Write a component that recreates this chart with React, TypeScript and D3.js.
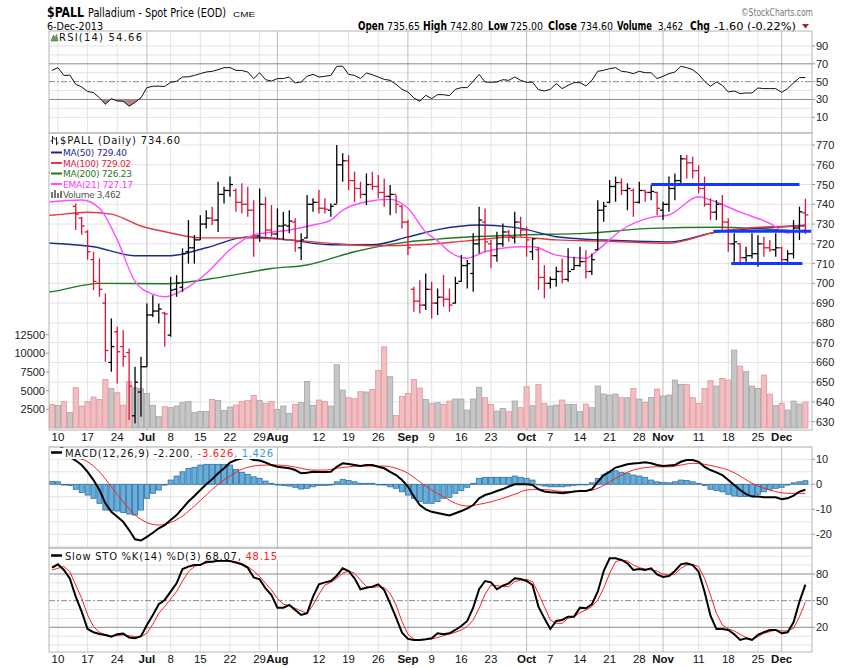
import React from 'react';
import * as d3 from 'd3';

// ---------- DATA ----------
const PRIOR_CLOSE = 755;
const OPEN = [756,748,752,746,739,733,726,712,700,690,
660,675.5,668,665,633,645,657.8,684,686,685,
673.8,697,698,716,718,722,730,733,732,745,
747,747,741,740,737,724,740,727,725,729,
729,731,718,723,740,741,738,737,740,760,
762,752,748,745,750,749,746,744,745,739,
731,697,691,689,697,690,693,692,690,701,
709,705,720,731,720,714,720,726,723,731,
727,716,717,703,700,702,706,702,707,709,
711,706,717,737,741,749,751,747,747,741,
747,746,746,737,740,748,752,763,761,757,
748,740,736,740,731,720,720,713,714,715,
720,718,717,718,712,715,728,735.65];
const HIGH = [758,757,755,752,740.4,733.7,727,716,712.6,694.9,
682.2,678,676.3,667,657.8,662.8,689.8,694,689.8,685.6,
703.3,704.2,717.7,732,724.4,734.5,737,738.8,751.4,748.9,
754,748,750.6,748.9,742.1,748,743.8,739.6,737.9,736.2,
737,732.9,725.3,744.7,743,747.2,743,740.4,770,765.8,
764.9,756.5,751.4,755.6,756.5,754.8,753.1,749.7,744.7,739.6,
732,698.3,701.6,705,700.8,697.4,704.2,697.4,703.3,714.3,
711.8,725.3,738.8,737.9,721.9,726.1,730.3,727,736.2,733.7,
728.6,722.7,718.5,709.2,703.3,708.4,712.6,717.7,713.5,718.5,
716.8,715.1,742.1,741.3,752.3,754,753.1,750.6,748,751.4,
747.2,749.7,746.4,741.3,754,755.6,764.9,764.9,764,759.8,
754,743,742.1,744.7,732.9,725.3,720.2,718.5,725.3,724.4,
723.6,721.9,725.3,718.5,716.8,732,738.8,742.8];
const LOW = [745,746,744,743,727,724.6,712,696.6,693.2,660.3,
655.3,649.3,657.8,630.8,629.1,632.5,657.8,683,679.7,667.9,
673,693.2,695.7,710,710,721.9,727.8,729.5,726,740.4,
743.8,736.2,735.4,733.7,713.5,721,723.6,723.6,722.7,721.9,
725.3,716,711.8,722.7,736.2,735.4,735.4,733.7,740.4,751.4,
747.2,741.3,743,739.6,747.2,743,738.8,734.5,735.4,727.8,
714.3,685.6,684.8,686.5,682.2,684,688.2,685.6,689.8,700.8,
697.4,695.7,715.1,716,707.6,710.9,718.5,721,720.2,723.6,
713.5,711.8,696.6,692.4,697.4,698.3,700,700.8,706.7,708.4,
702.5,704.2,716.8,731.2,740.4,741.3,744.7,737,733.7,740.4,
741.3,742.1,734.5,732,736.2,742.1,750.6,753.1,753.1,745.5,
738.8,732,732,726.1,716,710.9,709.2,710.9,712.6,708.4,
713.5,716,713.5,710,710.9,712.6,721.9,725];
const CLOSE = [748,752,746,748,735,729,716,701,697,666,
668,665.4,663,648,650,657.8,684,686,687,684.5,
696.6,700,715,718,722,730,733,732,745,747,
750,741,740,737,724,740,727,725,729,729.5,
731.5,721,722,740,741,738,737.5,739,760,762,
752,748,745,750,749,746,744,745,740,731,
718,691,689,697,690,693,692,689,700,709,
710,720,732,721,714,720,726,723.5,731,727,
722,722.5,703,700,702,706,702,706,709,711,
706,712,737,739,749,751,747,748,741,747,
746,746.5,738,740,748,752,763,761,757,748,
740,736,740,731,720,721,713,714,715,720,
718,717,718,712,715,728,736.2,734.6];
const VOLUME = [3164,3030,3520,2050,5390,2940,3520,4144,3832,6506,
5303,4723,3075,6238,5390,5258,4634,3030,1515,2852,
2718,2941,3387,3520,2050,2228,2228,3832,3699,2362,
2807,3075,3565,3699,4367,3699,3297,3565,2495,2941,
1960,3164,3387,6238,3030,3743,3520,2941,8466,5080,
4055,3921,4857,4812,5169,7709,10872,6862,1693,4233,
4634,6506,5347,3832,3297,3387,3164,3610,3877,3877,
2406,3877,5436,4055,3164,2273,2629,2184,3610,2718,
5525,2985,5837,3297,2941,3075,3743,3164,3164,2184,
3208,2718,5614,4545,4411,4545,4055,4055,5302,3877,
3431,4100,5214,4278,4411,6417,5837,5837,4055,3297,
5303,6328,5614,6640,6417,10427,8288,7530,5614,5303,
7085,4545,2985,3297,2406,3610,3208,3462];
const RSI = [62.7,65.7,57,57.3,47,44,39,37.7,32,24.6,
31,28.3,28,22.4,26.8,32,43.3,44.8,45,44.6,
49.3,50.4,55.2,55.4,57,59,60.8,61.6,63.4,65.7,
65.8,62.7,62.5,60.8,53.4,60,52.2,50.7,53.4,53.5,
55.2,48.5,49.6,56,58.2,55.2,56,57,67.2,67.3,
58.2,57,53.4,59.7,57.8,55.2,52.6,51.5,47,41.4,
38.4,31.7,28,34.7,31,35.4,35.4,34.3,41.4,43.3,
43.3,50.4,58.2,49.6,49.3,49.6,52.2,51.5,55.2,51.5,
49.3,49.3,41,39.5,41.4,47.8,42.2,45.9,48.9,48.9,
45.1,51.5,61.6,62.7,64.6,65.7,61.6,60.8,59,61.6,
60,60,53.4,56,59,60.8,67.2,65.7,63.4,58.2,
50.4,44.8,49.6,45.9,38.4,39.5,36.6,37.3,37.3,42.9,
42.2,42.2,42.2,38,42.2,48.5,54.5,54.66];
const MACD = [18.2,16,14,11,9.5,7.7,5,1.7,-2.3,-7.6,
-11,-13,-15,-18.3,-22,-22.5,-21,-19.4,-17.6,-16.3,
-14.3,-12.3,-9.6,-6.9,-4.7,-2.3,0,2,4.4,6.4,
8.7,9.7,10.4,10.7,9.7,9.5,8.7,7.7,7,6.7,
6.4,5.7,4.4,4.6,5,4.9,4.9,5,7,8.4,
8.1,7.7,7.3,7.7,7.7,7,6.4,5,3.7,1.7,
-0.9,-4.9,-8.3,-10,-11,-11.5,-12,-12.5,-11.6,-10.7,
-9.6,-8.3,-5.6,-4.3,-3.6,-2.7,-1.9,-0.9,0,0,
0,-0.3,-2,-2.9,-3.2,-3.3,-3.6,-3.3,-2.9,-2.7,
-2.7,-2,1,3.7,5,6.7,7.3,8,8.3,8.5,
8.8,8.4,7.7,7.3,7.5,7.7,9,9.7,9.7,9,
7,5.7,4.8,3.7,1.7,-0.3,-2.3,-3.9,-4.9,-4.9,
-5.2,-5.2,-5.2,-6,-5.6,-4.5,-2.9,-2.2];
const MACD_SIGNAL = [[0,17],[2,14],[4,11],[6,9],[8,5],[10,-1],[12,-7],[14,-12.3],[16,-15.3],[18,-16.3],
[20,-15.3],[22,-12.7],[24,-8.7],[26,-4.3],[28,0],[30,3.3],[32,6],[34,7.3],[36,7.7],[38,7.7],
[40,7.3],[42,6.4],[44,5.7],[46,5.7],[48,6.4],[50,7],[52,7.3],[54,7.3],[56,7.3],[58,6.4],
[60,4.4],[62,1],[64,-2.3],[66,-5],[68,-7.6],[70,-8.7],[72,-8],[74,-7],[76,-5.6],[78,-4],
[80,-2.3],[82,-2],[84,-2.3],[86,-2.9],[88,-2.9],[90,-2.7],[92,-1.6],[94,1],[96,3.7],[98,5.7],
[100,6.7],[102,7],[104,7],[106,7.7],[108,8.4],[110,8],[112,7],[114,5.7],[116,3.3],[118,0.4],
[120,-1.6],[122,-2.9],[124,-3.6],[126,-3.6],[127,-3.626]];
const MACD_HIST = [1.2,1,-0.3,-0.5,-2,-3.3,-4.3,-5.6,-7.6,-10.3,
-10.5,-10.7,-11.3,-11.9,-12.3,-10.3,-5.6,-3.6,-2.3,-0.3,
1.7,3.3,5,6.4,6.8,7.7,8,8,8,8,
7.7,6,4.8,4,3,2.4,1.3,0.4,-0.3,-0.5,
-0.7,-1.2,-1.9,-1.6,-1,-0.5,-0.5,-0.3,1,2,
1.5,1,0.4,0.4,0.4,0,-0.3,-1,-1.6,-3,
-4.3,-5.6,-6.9,-7.6,-7.6,-6.9,-5.6,-5.2,-3.6,-2.5,
-1.2,0.4,2.4,2.8,2.8,2.8,2.8,2.8,3.3,2.8,
2.4,1.7,0,-0.7,-1,-1,-1,-0.7,-0.4,-0.1,
0,0.6,2.4,3.7,5,5.4,4.8,4.4,3.7,3.3,
2.8,1.7,1,0.8,0.6,1,1.7,1.5,1,0.4,
-0.5,-2,-2.5,-3,-4,-4.7,-4.9,-4.9,-4.7,-4,
-3,-2,-1.6,-1.2,-0.3,0.6,1,1.426];
const STO_K = [87.1,90.9,84.5,75.1,54.5,37.6,18.1,14.4,12.5,11.4,
9.5,12.1,12.9,8.4,7.6,9.9,22.6,33.9,45.9,50.8,
60.1,69.5,85.6,88.3,90.1,90.1,93.9,93.9,95,95,
94.6,92.8,90.9,87.1,76.2,74,63.9,56.4,42.1,42.1,
45.1,39.5,33.9,35.8,54.5,68.4,70.6,72.1,78.1,86.4,
83.4,75.1,62.8,64.6,65.8,68.4,62,47,30.9,14,
6.9,5.8,5.8,6.5,7.6,13.3,12.1,13.3,17,21.5,
27.1,42.1,62.8,72.1,70.6,62.8,66.9,69.5,75.1,74.4,
72.1,67.6,43.3,30.1,18.1,27.1,28.3,32,32,42.1,
41.4,45.9,60.1,83.4,97.6,97.6,95.8,92,84.5,85.6,
84.5,86.4,79.6,76.6,77.8,83.4,90.9,92,90.1,82.6,
60.1,33.1,18.1,18.1,17,12.1,5.8,7.6,5.8,11.4,
14.4,17,17,13.3,14.4,25.6,48.9,68.07];
const STO_D = [84.5,86.5,88.3,82.6,67.6,52.6,33.9,20.8,14.4,11.4,
10.6,10.6,11.4,10.6,9.5,9.5,13.3,23.4,35.8,43.3,
51.9,60.1,72.1,82.6,88.3,90.9,92,93.9,94.6,94.6,
94.6,93.9,92,88.3,83.4,77,69.5,62,52.6,45.9,
44.4,41.4,38.4,35.8,45.1,57.1,67.6,70.6,75.1,80.8,
83.4,80.8,73.2,65.8,64.6,65.8,64.6,58.2,45.1,26.4,
12.1,6.5,5.8,6.2,6.9,8.5,10.6,12.5,14.4,17,
20.8,28.3,41.4,57.1,67.6,66.9,65.8,65.8,71.4,73.2,
74,71.4,58.2,43.3,28.3,24.5,24.5,30.1,32,36.5,
39.5,43.3,50.8,63.9,80.8,93.9,95.8,94.6,90.1,87.1,
85.6,84.5,83.4,79.6,78.9,79.6,86.4,90.1,90.9,88.3,
75.1,56.4,35.8,22.6,18.1,15.9,12.1,8.4,6.5,9.5,
13.3,15.1,17,15.9,15.9,18.9,32,48.15];
const MA50 = [[-1,720.5],[0,720.3],[7,718.5],[14,714],[20,714],[26,718],[33,723.5],[40,722],[47,719.5],[54,719.5],[60,723.5],[65,727.2],[72,729.5],[79,727.8],[85,723.6],[93,721.9],[104,721],[112,726],[120,728],[127,729.4]];
const MA100 = [[-1,734.3],[0,734.5],[6,736],[10,735],[15,729],[20,725.5],[25,723],[32,723],[40,722],[48,720],[55,719],[62,719.5],[70,721.5],[78,723.5],[85,722],[93,721.4],[104,720.3],[112,726],[120,728.5],[127,729.02]];
const MA200 = [[-1,695.4],[0,695.8],[8,700],[19,699.8],[29,703.4],[37,707.5],[43,709.3],[51,716],[60,721],[65,722.4],[79,724.5],[90,725.3],[101,727.8],[112,728.4],[120,727.5],[127,726.23]];
const EMA21 = [[-1,741],[0,741.3],[5,742.2],[8,738],[11,722],[14,701],[17,694.5],[19,693.2],[22,696.5],[26,705],[30,717],[34,724.5],[40,727],[44,729.5],[47,732],[49,737],[53,741.3],[57,742.5],[60,738],[63,726],[65,721.5],[67,716],[70,712.7],[73,716],[79,718.5],[81,718.5],[85,714.3],[90,712.7],[92,716.9],[96,727],[101,733.4],[104,734.6],[109,743.8],[111,742.2],[116,736],[121,730.4],[124,725.5],[127,727.17]];
const ANNOT_PRICE = [750, 726.4, 710];
const ANNOT_START = [101, 111.5, 114.5];
const ANNOT_END = [126, 128, 126.5];
const TICK_POS = [1,6,11,16,20,25,30,35,38,45,50,55,60,64,69,74,80,84,89,94,99,103,109,114,119,123];
const TICK_LABELS = ['10','17','24','Jul','8','15','22','29','Aug','12','19','26','Sep','9','16','23','Oct','7','14','21','28','Nov','11','18','25','Dec'];
const MONTH_LABELS = ['Jul','Aug','Sep','Oct','Nov','Dec'];
const PRICE_TICKS = [630,640,650,660,670,680,690,700,710,720,730,740,750,760,770];
const VOLUME_TICKS = [2500,5000,7500,10000,12500];
const RSI_TICKS = [10,30,50,70,90];
const RSI_GRID = [10,20,40,60,80,90];
const MACD_TICKS = [-20,-10,0,10];
const MACD_GRID = [-25,-20,-15,-10,-5,0,5,10,15];
const STO_TICKS = [20,50,80];
const STO_GRID = [0,10,30,40,60,70,90,100];
const HEADER_LABELS = ['Open','High','Low','Close','Volume','Chg'];
const HEADER_VALUES = ['735.65','742.80','725.00','734.60','3,462','-1.60 (-0.22%)'];

// ---------- LAYOUT ----------
const PL = 49, PR = 812;
const RSI_T = 31, RSI_B = 133, MAIN_T = 133, MAIN_B = 430, MACD_T = 447, MACD_B = 548, STO_T = 548, STO_B = 652;
const HDR_LX = [358, 423, 488, 548, 617, 690];
const HDR_LW = [26, 24, 20, 29, 35, 20];
const HDR_VX = [387, 450, 510, 580, 658, 714];
const HDR_VW = [33, 33, 33, 33, 25, 82];

const SANS = "'Liberation Sans', Arial, Helvetica, sans-serif";
const NARROW = "'Liberation Sans Narrow', 'DejaVu Sans Condensed', 'Arial Narrow', sans-serif";
const VERD = "'DejaVu Sans', Verdana, sans-serif";
const UP = '#000000', DOWN = '#dc143c';

export default function App() {
  const x = d3.scaleLinear().domain([0, 127]).range([52, 805.4]);
  const yP = d3.scaleLinear().domain([630, 770]).range([421.7, 145]);
  const yV = d3.scaleLinear().domain([0, 12500]).range([428, 334.6]);
  const yR = d3.scaleLinear().domain([10, 90]).range([117.3, 46]);
  const yM = d3.scaleLinear().domain([-20, 10]).range([534.3, 459.3]);
  const yS = d3.scaleLinear().domain([20, 80]).range([627.3, 574]);

  const idx = d3.range(CLOSE.length);
  const isUp = (i: number) => CLOSE[i] >= (i === 0 ? PRIOR_CLOSE : CLOSE[i - 1]);

  const smooth = (ys: any) => d3.line<number[]>().x(d => x(d[0])).y(d => ys(d[1])).curve(d3.curveMonotoneX);
  const lin = (arr: number[], ys: any) => d3.line<number>().x((_, i) => x(i)).y(d => ys(d))(arr) || '';

  const rsiArea = d3.area<number>().x((_, i) => x(i)).y0(yR(30)).y1(d => yR(d))(RSI) || '';

  const weekGrid = (top: number, bot: number) =>
    TICK_POS.map((p, k) => (
      <line key={'g' + k} x1={x(p)} x2={x(p)} y1={top} y2={bot}
        stroke={MONTH_LABELS.includes(TICK_LABELS[k]) ? '#bdbdbd' : '#e3e3e3'} strokeWidth={1} />
    ));

  const dateAxis = (yb: number) =>
    TICK_POS.map((p, k) => {
      const m = MONTH_LABELS.includes(TICK_LABELS[k]);
      return (
        <text key={'d' + k} x={x(p)} y={yb} textAnchor="middle" fontFamily={SANS}
          fontSize={11.5} fontWeight={m ? 'bold' : 'normal'} fill="#111">{TICK_LABELS[k]}</text>
      );
    });

  const hline = (y: number, key: string, stroke = '#e3e3e3', dash?: string) => (
    <line key={key} x1={PL} x2={PR} y1={y} y2={y} stroke={stroke} strokeWidth={1} strokeDasharray={dash} />
  );

  return (
    <svg width={850} height={668} style={{ position: 'absolute', left: 0, top: 0, background: '#fff' }}
      xmlns="http://www.w3.org/2000/svg">
      <defs>
        <clipPath id="cRsi"><rect x={PL} y={RSI_T} width={PR - PL} height={RSI_B - RSI_T} /></clipPath>
        <clipPath id="cRsiLow"><rect x={PL} y={yR(30)} width={PR - PL} height={RSI_B - yR(30)} /></clipPath>
        <clipPath id="cMain"><rect x={PL} y={MAIN_T} width={PR - PL} height={MAIN_B - MAIN_T} /></clipPath>
        <clipPath id="cMacd"><rect x={PL} y={MACD_T} width={PR - PL} height={MACD_B - MACD_T} /></clipPath>
        <clipPath id="cSto"><rect x={PL} y={STO_T} width={PR - PL} height={STO_B - STO_T} /></clipPath>
      </defs>
      <rect x={0} y={0} width={850} height={668} fill="#fff" />

      {/* ---------- HEADER ---------- */}
      <text x={47} y={16.5} fontFamily={NARROW} fontWeight="bold" fontSize={14.5} textLength={37} lengthAdjust="spacingAndGlyphs">$PALL</text>
      <text x={88} y={16.5} fontFamily={NARROW} fontSize={11.5} textLength={138} lengthAdjust="spacingAndGlyphs">Palladium - Spot Price (EOD)</text>
      <text x={233} y={16.5} fontFamily={SANS} fontSize={7.5} textLength={22} lengthAdjust="spacingAndGlyphs">CME</text>
      <text x={47} y={29.5} fontFamily={NARROW} fontSize={10.5} textLength={56} lengthAdjust="spacingAndGlyphs">6-Dec-2013</text>
      <text x={741} y={16} fontFamily={NARROW} fontSize={10.5} fill="#777" textLength={72} lengthAdjust="spacingAndGlyphs">©StockCharts.com</text>
      {HEADER_LABELS.map((l, k) => (
        <g key={'hd' + k}>
          <text x={HDR_LX[k]} y={29.5} fontFamily={NARROW} fontSize={11.5} fontWeight="bold" textLength={HDR_LW[k]} lengthAdjust="spacingAndGlyphs">{l}</text>
          <text x={HDR_VX[k]} y={29.5} fontFamily={NARROW} fontSize={11} textLength={HDR_VW[k]} lengthAdjust="spacingAndGlyphs">{HEADER_VALUES[k]}</text>
        </g>
      ))}
      <path d="M802,24 L809,24 L805.5,28.5 Z" fill="#b0202a" />

      {/* ---------- RSI PANEL ---------- */}
      <g>
        {RSI_GRID.map((v, k) => hline(yR(v), 'rg' + k))}
        {weekGrid(RSI_T, RSI_B)}
        {hline(yR(70), 'r70', '#8a8a8a')}
        {hline(yR(30), 'r30', '#8a8a8a')}
        {hline(yR(50), 'r50', '#8a8a8a', '6,2,2,2')}
        <g clipPath="url(#cRsiLow)"><path d={rsiArea} fill="#b98585" /></g>
        <g clipPath="url(#cRsi)"><path d={lin(RSI, yR)} fill="none" stroke="#111" strokeWidth={1} /></g>
        <rect x={PL} y={RSI_T} width={PR - PL} height={RSI_B - RSI_T} fill="none" stroke="#b5b5b5" />
        {RSI_TICKS.map((v, k) => (
          <g key={'rt' + k}>
            <line x1={PR} x2={PR + 3} y1={yR(v)} y2={yR(v)} stroke="#999" />
            <text x={PR + 4} y={yR(v) + 4} fontFamily={SANS} fontSize={11} fill="#222">{v}</text>
          </g>
        ))}
        <rect x={50} y={32} width={94} height={11} fill="#fff" />
        <path d="M51,41 L53.5,35 L55,38 L56.5,34.5 L58,41 Z" fill="#6d9a6d" stroke="#3c6b3c" strokeWidth={0.6} />
        <text x={59} y={41} fontFamily={VERD} fontSize={10} textLength={83} lengthAdjust="spacing" fill="#111">RSI(14) 54.66</text>
      </g>

      {/* ---------- MAIN PANEL ---------- */}
      <g>
        {PRICE_TICKS.map((v, k) => hline(yP(v), 'pg' + k))}
        {weekGrid(MAIN_T, MAIN_B)}
        <g clipPath="url(#cMain)">
          {idx.map(i => {
            const up = isUp(i);
            return (
              <rect key={'v' + i} x={x(i) - 2.6} y={yV(VOLUME[i])} width={5.2} height={yV(0) - yV(VOLUME[i])}
                fill={up ? '#c6c6c6' : '#f1bfc2'} stroke={up ? '#a3a3a3' : '#e3959b'} strokeWidth={0.8} />
            );
          })}
          <path d={smooth(yP)(MA200 as any) || ''} fill="none" stroke="#1f7a1f" strokeWidth={1.4} />
          <path d={smooth(yP)(MA50 as any) || ''} fill="none" stroke="#1c2a8c" strokeWidth={1.4} />
          <path d={smooth(yP)(MA100 as any) || ''} fill="none" stroke="#e23a45" strokeWidth={1.4} />
          <path d={smooth(yP)(EMA21 as any) || ''} fill="none" stroke="#ff4dff" strokeWidth={1.4} />
          {idx.map(i => {
            const c = isUp(i) ? UP : DOWN;
            const xi = x(i);
            return (
              <g key={'b' + i} stroke={c} strokeWidth={1.3}>
                <line x1={xi} x2={xi} y1={yP(HIGH[i])} y2={yP(LOW[i])} />
                <line x1={xi - 3} x2={xi} y1={yP(OPEN[i])} y2={yP(OPEN[i])} />
                <line x1={xi} x2={xi + 3} y1={yP(CLOSE[i])} y2={yP(CLOSE[i])} />
              </g>
            );
          })}
          {ANNOT_PRICE.map((p, k) => (
            <line key={'an' + k} x1={x(ANNOT_START[k])} x2={x(ANNOT_END[k])} y1={yP(p)} y2={yP(p)} stroke="#1238ff" strokeWidth={3} />
          ))}
        </g>
        <rect x={PL} y={MAIN_T} width={PR - PL} height={MAIN_B - MAIN_T} fill="none" stroke="#b5b5b5" />
        {PRICE_TICKS.map((v, k) => (
          <g key={'pt' + k}>
            <line x1={PR} x2={PR + 3} y1={yP(v)} y2={yP(v)} stroke="#999" />
            <text x={PR + 4} y={yP(v) + 4} fontFamily={SANS} fontSize={11} fill="#222">{v}</text>
          </g>
        ))}
        {VOLUME_TICKS.map((v, k) => (
          <g key={'vt' + k}>
            <line x1={PL - 3} x2={PL} y1={yV(v)} y2={yV(v)} stroke="#999" />
            <text x={PL - 4} y={yV(v) + 4} textAnchor="end" fontFamily={SANS} fontSize={11} fill="#222">{v}</text>
          </g>
        ))}
        {/* legend */}
        <rect x={50} y={134} width={131} height={11.5} fill="#fff" />
        <rect x={50} y={146} width={79} height={53} fill="#fff" />
        <g stroke="#222" strokeWidth={1}>
          <line x1={52.5} x2={52.5} y1={136} y2={144} /><line x1={50.5} x2={52.5} y1={141} y2={141} /><line x1={52.5} x2={54.5} y1={138} y2={138} />
          <line x1={56.5} x2={56.5} y1={137} y2={145} /><line x1={54.5} x2={56.5} y1={139} y2={139} /><line x1={56.5} x2={58.5} y1={143} y2={143} />
        </g>
        <text x={60} y={144} fontFamily={VERD} fontSize={10} textLength={120} lengthAdjust="spacing" fill="#111">$PALL (Daily) 734.60</text>
        <line x1={51} x2={62} y1={152.5} y2={152.5} stroke="#1c2a8c" strokeWidth={2} />
        <text x={63} y={156} fontFamily={VERD} fontSize={9} textLength={64} lengthAdjust="spacing" fill="#1c2a8c">MA(50) 729.40</text>
        <line x1={51} x2={62} y1={163} y2={163} stroke="#e23a45" strokeWidth={2} />
        <text x={63} y={166.5} fontFamily={VERD} fontSize={9} textLength={68} lengthAdjust="spacing" fill="#e0203c">MA(100) 729.02</text>
        <line x1={51} x2={62} y1={173.5} y2={173.5} stroke="#1f7a1f" strokeWidth={2} />
        <text x={63} y={177} fontFamily={VERD} fontSize={9} textLength={69} lengthAdjust="spacing" fill="#1f7a1f">MA(200) 726.23</text>
        <line x1={51} x2={62} y1={184} y2={184} stroke="#ff4dff" strokeWidth={2} />
        <text x={63} y={187.5} fontFamily={VERD} fontSize={9} textLength={70} lengthAdjust="spacing" fill="#ff33ff">EMA(21) 727.17</text>
        <g fill="#777">
          <rect x={51} y={192} width={2} height={6} /><rect x={54} y={190} width={2} height={8} /><rect x={57} y={193} width={2} height={5} /><rect x={60} y={191} width={2} height={7} />
        </g>
        <text x={63} y={198} fontFamily={VERD} fontSize={9} textLength={58} lengthAdjust="spacing" fill="#555">Volume 3,462</text>
      </g>
      {dateAxis(441)}

      {/* ---------- MACD PANEL ---------- */}
      <g>
        {MACD_GRID.map((v, k) => hline(yM(v), 'mg' + k))}
        {weekGrid(MACD_T, MACD_B)}
        <g clipPath="url(#cMacd)">
          {idx.map(i => {
            const v = MACD_HIST[i];
            const y0 = yM(0), y1 = yM(v);
            return <rect key={'h' + i} x={x(i) - 2.5} y={Math.min(y0, y1)} width={5} height={Math.max(0.6, Math.abs(y1 - y0))}
              fill="#66afd9" stroke="#2f6ea6" strokeWidth={0.8} />;
          })}
          <path d={smooth(yM)(MACD_SIGNAL as any) || ''} fill="none" stroke="#ff2020" strokeWidth={1} />
          <path d={lin(MACD, yM)} fill="none" stroke="#000" strokeWidth={2} />
        </g>
        <rect x={PL} y={MACD_T} width={PR - PL} height={MACD_B - MACD_T} fill="none" stroke="#b5b5b5" />
        {MACD_TICKS.map((v, k) => (
          <g key={'mt' + k}>
            <line x1={PR} x2={PR + 3} y1={yM(v)} y2={yM(v)} stroke="#999" />
            <text x={PR + 4} y={yM(v) + 4} fontFamily={SANS} fontSize={11} fill="#222">{v}</text>
          </g>
        ))}
        <rect x={50} y={448} width={225} height={11} fill="#fff" />
        <line x1={51} x2={62} y1={452.5} y2={452.5} stroke="#000" strokeWidth={2.5} />
        <text x={65} y={456.5} fontFamily={VERD} fontSize={10} textLength={208} lengthAdjust="spacing">
          <tspan fill="#111">MACD(12,26,9) -2.200</tspan><tspan fill="#ff2020">, -3.626</tspan><tspan fill="#3a9ad0">, 1.426</tspan>
        </text>
      </g>

      {/* ---------- STO PANEL ---------- */}
      <g>
        {STO_GRID.map((v, k) => hline(yS(v), 'sg' + k))}
        {weekGrid(STO_T, STO_B)}
        {hline(yS(80), 's80', '#8a8a8a')}
        {hline(yS(20), 's20', '#8a8a8a')}
        {hline(yS(50), 's50', '#8a8a8a', '6,2,2,2')}
        <g clipPath="url(#cSto)">
          <path d={lin(STO_D, yS)} fill="none" stroke="#ff2020" strokeWidth={1} />
          <path d={lin(STO_K, yS)} fill="none" stroke="#000" strokeWidth={2} />
        </g>
        <rect x={PL} y={STO_T} width={PR - PL} height={STO_B - STO_T} fill="none" stroke="#b5b5b5" />
        {STO_TICKS.map((v, k) => (
          <g key={'st' + k}>
            <line x1={PR} x2={PR + 3} y1={yS(v)} y2={yS(v)} stroke="#999" />
            <text x={PR + 4} y={yS(v) + 4} fontFamily={SANS} fontSize={11} fill="#222">{v}</text>
          </g>
        ))}
        <rect x={50} y={549} width={229} height={11} fill="#fff" />
        <line x1={51} x2={62} y1={555.5} y2={555.5} stroke="#000" strokeWidth={2.5} />
        <text x={65} y={559.5} fontFamily={VERD} fontSize={10} textLength={212} lengthAdjust="spacing">
          <tspan fill="#111">Slow STO %K(14) %D(3) 68.07,</tspan><tspan fill="#ff2020"> 48.15</tspan>
        </text>
      </g>
      {dateAxis(663)}
    </svg>
  );
}
